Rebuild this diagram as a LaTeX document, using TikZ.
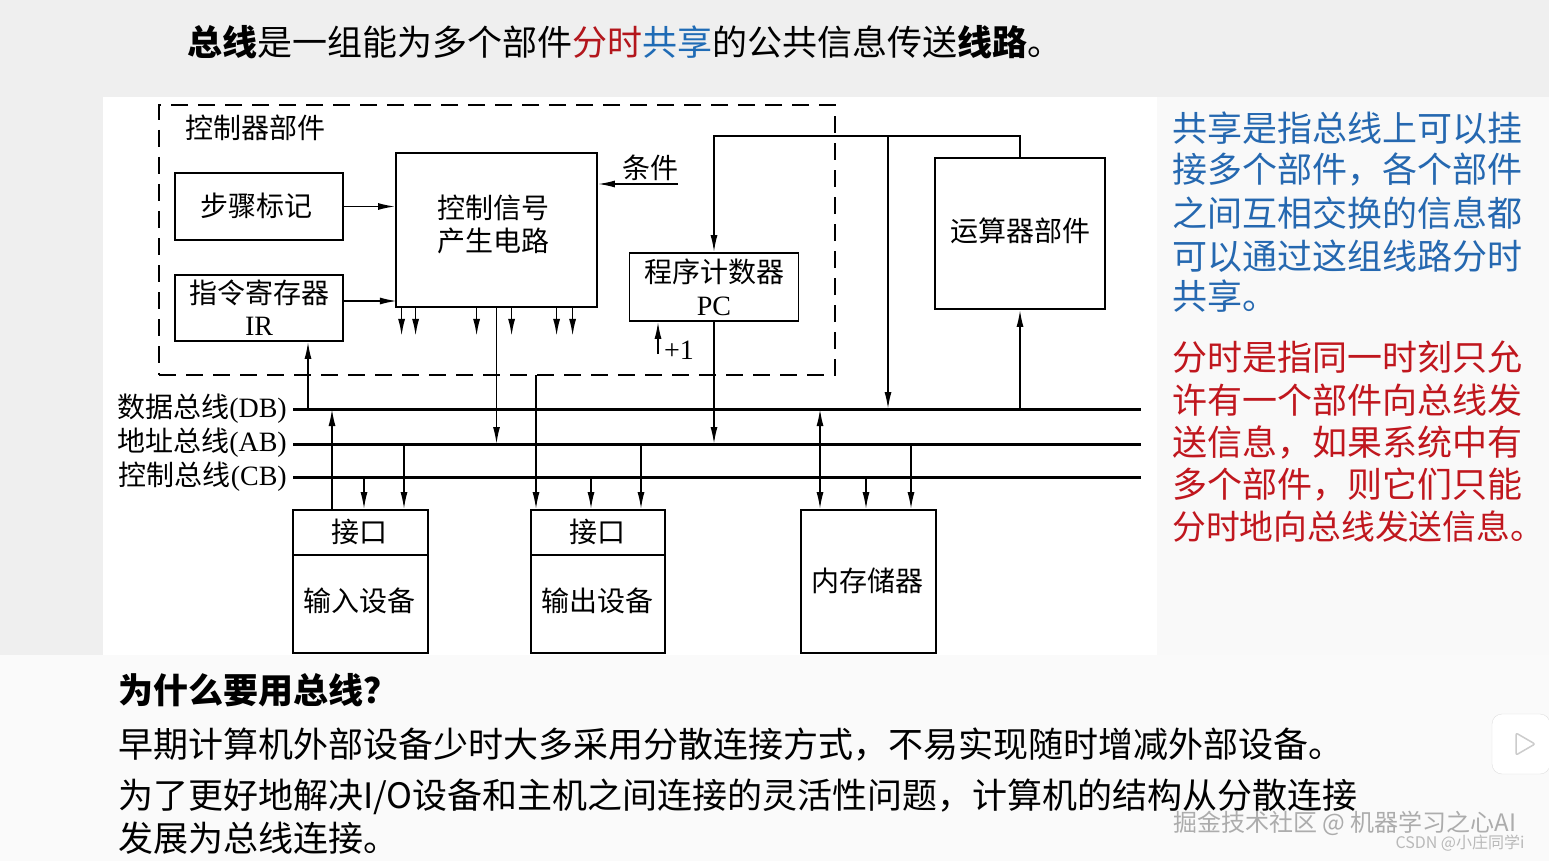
\documentclass[tikz,border=0pt]{standalone}
\usepackage{fontspec}
\setmainfont{Liberation Serif}
\newfontfamily\cjk{Noto Sans CJK SC}
\usetikzlibrary{arrows.meta}
\definecolor{bgc}{HTML}{EFEFEF}
\definecolor{tred}{HTML}{B3161C}
\definecolor{tblue}{HTML}{1F6BB5}
\definecolor{rblue}{HTML}{2568B0}
\definecolor{rred}{HTML}{C0171E}
\begin{document}
\begin{tikzpicture}[x=1pt,y=-1pt,
  blk/.style={draw,line width=1.8pt,inner sep=0pt,fill=white},
  dashbox/.style={draw,line width=1.8pt,dash pattern=on 17pt off 10pt,inner sep=0pt},
  dtext/.style={inner sep=0pt,font=\cjk\fontsize{28pt}{33pt}\selectfont},
  ltext/.style={inner sep=0pt,font=\fontsize{28pt}{33pt}\selectfont},
  arr/.style={line width=1.6pt,-{Latex[length=17pt,width=7pt]}},
  arrtwo/.style={line width=1.6pt,{Latex[length=17pt,width=7pt]}-{Latex[length=17pt,width=7pt]}},
  bus/.style={line width=3pt},
  big/.style={inner sep=0pt,anchor=west,font=\cjk\fontsize{35pt}{42pt}\selectfont}]
\useasboundingbox (0,0) rectangle (1549,861);
% backgrounds
\fill[bgc] (0,0) rectangle (1549,861);
\fill[white!60!bgc] (1157,97) rectangle (1549,655);
\fill[white!70!bgc] (0,655) rectangle (1549,861);
\fill[white] (103,97) rectangle (1157,655);

% title
\node[big] (title) at (187,42) {{\bfseries 总线}是一组能为多个部件{\color{tred}分时}{\color{tblue}共享}的公共信息传送{\bfseries 线路}。};

% controller dashed box
\node[dashbox,minimum width=676pt,minimum height=270pt] (ctl) at (497,240) {};
\node[dtext] (ctllab) at (255,128) {控制器部件};

% boxes
\node[blk,minimum width=168pt,minimum height=67pt] (step) at (259,206.5) {};
\node[dtext] (stept) at (256,206) {步骤标记};
\node[blk,minimum width=168pt,minimum height=66pt] (ir) at (259,308) {};
\node[dtext] (irt1) at (259,293) {指令寄存器};
\node[ltext] (irt2) at (259,326) {IR};
\node[blk,minimum width=201pt,minimum height=154pt] (ctrl) at (496.5,230) {};
\node[dtext,align=center] (ctrlt) at (493,224.5) {控制信号\\产生电路};
\node[blk,minimum width=169pt,minimum height=68pt] (pc) at (714,287) {};
\node[dtext] (pct1) at (714,272) {程序计数器};
\node[ltext] (pct2) at (714,306) {PC};
\node[blk,minimum width=170pt,minimum height=151pt] (alu) at (1020,233.5) {};
\node[dtext] (alut) at (1020,231) {运算器部件};

% devices
\node[blk,minimum width=135pt,minimum height=143pt] (in) at (360.5,581.5) {};
\draw[line width=1.8pt] (in.west |- 0,555) coordinate (ind1) -- (in.east |- ind1);
\node[dtext] (int1) at (359,532) {接口};
\node[dtext] (int2) at (359,601) {输入设备};
\node[blk,minimum width=134pt,minimum height=143pt] (out) at (598,581.5) {};
\draw[line width=1.8pt] (out.west |- ind1) -- (out.east |- ind1);
\node[dtext] (outt1) at (597,532) {接口};
\node[dtext] (outt2) at (597,601) {输出设备};
\node[blk,minimum width=135pt,minimum height=143pt] (mem) at (868.5,581.5) {};
\node[dtext] (memt) at (867,581) {内存储器};

% buses
\coordinate (dbL) at (293,409); \coordinate (dbR) at (1141,409);
\coordinate (abL) at (293,444); \coordinate (abR) at (1141,444);
\coordinate (cbL) at (293,477); \coordinate (cbR) at (1141,477);
\draw[bus] (dbL) -- (dbR);
\draw[bus] (abL) -- (abR);
\draw[bus] (cbL) -- (cbR);
\node[inner sep=0pt,anchor=east,font=\fontsize{28pt}{33pt}\selectfont] (dbt) at (287,409) {{\cjk 数据总线}(DB)};
\node[inner sep=0pt,anchor=east,font=\fontsize{28pt}{33pt}\selectfont] (abt) at (287,443) {{\cjk 地址总线}(AB)};
\node[inner sep=0pt,anchor=east,font=\fontsize{28pt}{33pt}\selectfont] (cbt) at (287,477) {{\cjk 控制总线}(CB)};

% controller internal connectors
\draw[arr] (step.east) -- (step.east -| ctrl.west);
\draw[arr] ([yshift=7pt]ir.east) -- ++(53,0);
\coordinate (cond) at (678,184);
\draw[arr] (cond) -- (cond -| ctrl.east);
\node[dtext] (condt) at (650,168) {条件};
\foreach \dx in {6.5,20.5,81.5,116.5,161.5,177.5}
  \draw[arr] (ctrl.south west) ++(\dx,0) -- ++(0,28);
\coordinate (inc) at (658,354);
\draw[arr] (inc) -- (inc |- pc.south);
\node[ltext] (inct) at (679,350) {+1};

% top loop
\draw[arr] (alu.north) -- ++(0,-21) coordinate (topr) -| (pc.north);
\coordinate (br) at (888,137);
\draw[arr] (br) -- (br |- dbL);
\draw[arr] (alu.south |- dbL) -- (alu.south);

% to / from buses
\coordinate (irup) at (308,409);
\draw[arr] (irup) -- (irup |- ir.south);
\draw[arr] (ctrl.south) -- (ctrl.south |- abL);
\draw[arr] (pc.south) -- (pc.south |- abL);
\coordinate (cs) at (536,375);
\draw[arr] (cs) -- (cs |- out.north);

\coordinate (i1) at (332,409);
\coordinate (i2) at (364,477);
\coordinate (i3) at (404,444);
\draw[arr] (i1 |- in.north) -- (i1);
\draw[arr] (i2) -- (i2 |- in.north);
\draw[arr] (i3) -- (i3 |- in.north);

\coordinate (o2) at (591,477);
\coordinate (o3) at (641,444);
\draw[arr] (o2) -- (o2 |- out.north);
\draw[arr] (o3) -- (o3 |- out.north);

\coordinate (m1) at (820,409);
\coordinate (m2) at (866,477);
\coordinate (m3) at (911,444);
\draw[arrtwo] (m1) -- (m1 |- mem.north);
\draw[arr] (m2) -- (m2 |- mem.north);
\draw[arr] (m3) -- (m3 |- mem.north);

% right text
\node[big,text=rblue] (b1) at (1172,128) {共享是指总线上可以挂};
\node[big,text=rblue] (b2) at (1172,170) {接多个部件，各个部件};
\node[big,text=rblue] (b3) at (1172,213) {之间互相交换的信息都};
\node[big,text=rblue] (b4) at (1172,256) {可以通过这组线路分时};
\node[big,text=rblue] (b5) at (1172,296) {共享。};
\node[big,text=rred] (r1) at (1172,357) {分时是指同一时刻只允};
\node[big,text=rred] (r2) at (1172,400) {许有一个部件向总线发};
\node[big,text=rred] (r3) at (1172,442) {送信息，如果系统中有};
\node[big,text=rred] (r4) at (1172,485) {多个部件，则它们只能};
\node[big,text=rred,font=\cjk\fontsize{33.8pt}{42pt}\selectfont] (r5) at (1172,527) {分时地向总线发送信息。};

% bottom text
\node[big] (q) at (118,690) {\bfseries 为什么要用总线？};
\node[big] (l1) at (118,745) {早期计算机外部设备少时大多采用分散连接方式，不易实现随时增减外部设备。};
\node[big] (l2) at (118,797) {为了更好地解决I/O设备和主机之间连接的灵活性问题，计算机的结构从分散连接};
\node[big] (l3) at (118,838) {发展为总线连接。};

% video icon
\node[draw=gray!25,fill=white,rounded corners=10pt,minimum width=58pt,minimum height=60pt,inner sep=0pt] (vid) at (1521,744) {};
\draw[gray!40,line width=1.5pt,rounded corners=2pt] (1516,733) -- (1516,755) -- (1535,744) -- cycle;

% watermarks
\node[inner sep=0pt,text=gray!65,font=\cjk\fontsize{24pt}{24pt}\selectfont] (wm1) at (1345,823) {掘金技术社区 @ 机器学习之心AI};
\node[inner sep=0pt,text=gray!55,font=\cjk\fontsize{16pt}{16pt}\selectfont] (wm2) at (1460,843) {CSDN @小庄同学i};
\end{tikzpicture}
\end{document}
